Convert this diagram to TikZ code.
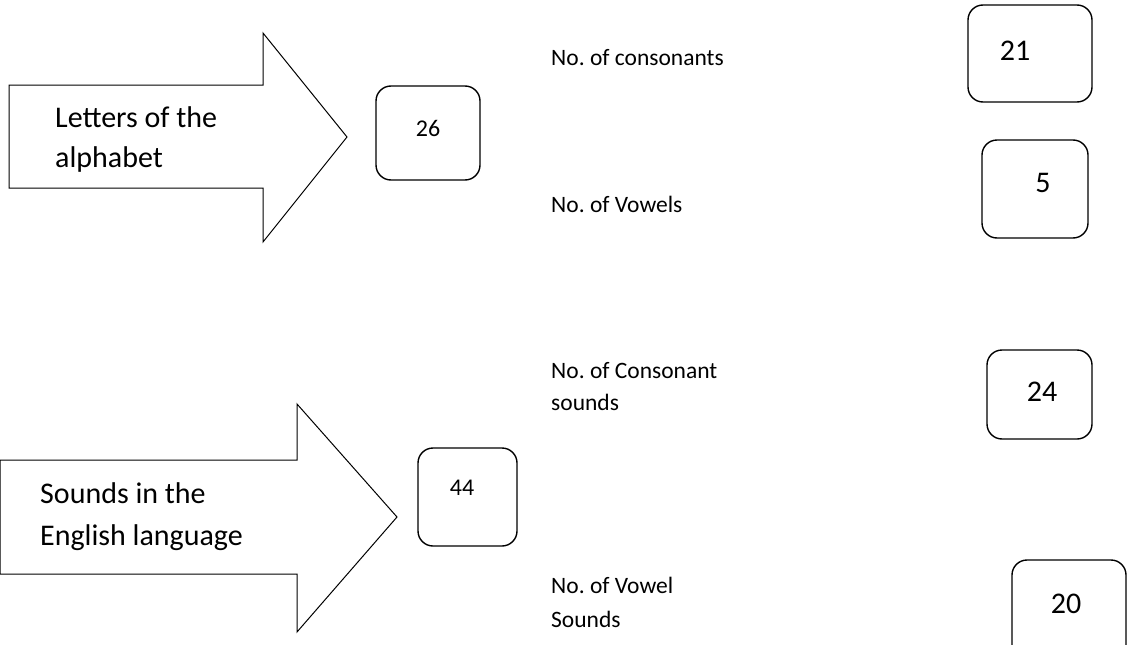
\documentclass[tikz,border=0pt]{standalone}
\usepackage{fontspec}
\setmainfont{Carlito}
\frenchspacing
\begin{document}
\begin{tikzpicture}[x=1pt,y=-1pt,
  bigarrow/.style={draw=black, line width=1pt, fill=white, line join=miter},
  numbox/.style={draw=black, line width=1.4pt, rounded corners=15pt, inner sep=0pt},
  arrowtext/.style={anchor=base west, inner sep=0pt, font=\fontsize{30}{40}\selectfont},
  labeltext/.style={anchor=base west, inner sep=0pt, font=\fontsize{23.5}{30}\selectfont},
  smallnum/.style={inner sep=0pt, font=\fontsize{24}{28}\selectfont},
  bignum/.style={inner sep=0pt, font=\fontsize{30}{34}\selectfont}]
\useasboundingbox (0,0) rectangle (1128,645);
\clip (0,0) rectangle (1128,645);
\fill[white] (0,0) rectangle (1128,645);

% big arrows
\draw[bigarrow] (9,85) -- (263,85) -- (263,33) -- (347,137) -- (263,242) -- (263,188) -- (9,188) -- cycle;
\draw[bigarrow] (0,460) -- (297,460) -- (297,404) -- (397,517) -- (297,632) -- (297,574) -- (0,574) -- cycle;

\node[arrowtext] (t1a) at (55,127) {Letters of the};
\node[arrowtext] (t1b) at (55,167) {alphabet};
\node[arrowtext] (t2a) at (40,503) {Sounds in the};
\node[arrowtext] (t2b) at (40,545) {English language};

% boxes
\node[numbox, minimum width=104pt, minimum height=94pt] (b26) at (428,133) {};
\node[smallnum] (n26) at (428,128) {26};
\node[numbox, minimum width=99pt, minimum height=98pt] (b44) at (467.5,497) {};
\node[smallnum] (n44) at (462,488) {44};

\node[numbox, minimum width=124pt, minimum height=97pt] (b21) at (1030,53.5) {};
\node[bignum] (n21) at (1015,51) {21};
\node[numbox, minimum width=106pt, minimum height=98pt] (b5) at (1035,189) {};
\node[bignum] (n5) at (1043,183) {5};
\node[numbox, minimum width=105pt, minimum height=89pt] (b24) at (1039.5,394.5) {};
\node[bignum] (n24) at (1042,392) {24};
\node[numbox, minimum width=114pt, minimum height=100pt] (b20) at (1069,610) {};
\node[bignum] (n20) at (1066,604) {20};

% labels
\node[labeltext] (l1) at (551,65) {No. of consonants};
\node[labeltext] (l2) at (551,212) {No. of Vowels};
\node[labeltext] (l3a) at (551,378) {No. of Consonant};
\node[labeltext] (l3b) at (551,410) {sounds};
\node[labeltext] (l4a) at (551,593) {No. of Vowel};
\node[labeltext] (l4b) at (551,627) {Sounds};
\end{tikzpicture}
\end{document}
